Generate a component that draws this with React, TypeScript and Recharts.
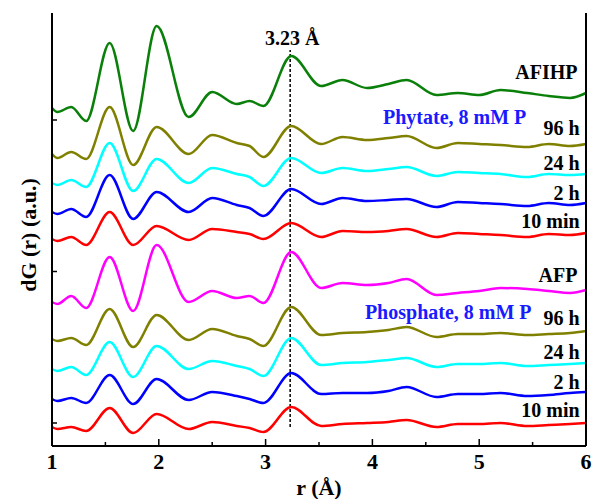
import { LineChart, Line, XAxis, YAxis, ReferenceLine, ReferenceDot } from 'recharts';

// r (Å) sample points, shared by every curve
const rValues = [1.0, 1.05, 1.18, 1.32, 1.54, 1.76, 1.98, 2.28, 2.5, 2.73, 2.85, 2.98, 3.24, 3.52, 3.72, 3.95, 4.15, 4.32, 4.6, 4.8, 5.0, 5.2, 5.45, 5.65, 5.85, 6.0];

// stacked dG(r), arbitrary units (already offset)
const afihp = [338, 334, 339, 325, 403, 315, 420, 329, 354, 342, 345, 340, 390, 360, 366, 358, 362, 366, 351, 353, 351, 356, 353, 350, 348, 353];
const phy96h = [292, 288, 294, 287, 339, 281, 319, 292, 311, 303, 300, 289, 320, 302, 309, 306, 308, 310, 298, 303, 302, 301, 299, 302, 300, 302];
const phy24h = [263, 261, 266, 259, 303, 255, 287, 263, 278, 272, 269, 260, 288, 273, 278, 275, 277, 279, 270, 274, 273, 272, 269, 272, 271, 272];
const phy2h = [234, 232, 237, 229, 271, 227, 254, 234, 248, 241, 238, 230, 257, 242, 248, 245, 246, 247, 239, 244, 243, 242, 240, 243, 241, 243];
const phy10m = [207, 205, 209, 201, 234, 201, 220, 206, 217, 214, 212, 207, 223, 209, 215, 214, 215, 217, 209, 213, 212, 211, 209, 212, 211, 213];
const afp = [144, 142, 150, 138, 189, 135, 201, 144, 155, 148, 150, 143, 194, 158, 163, 161, 163, 167, 151, 153, 155, 158, 157, 155, 153, 156];
const pho96h = [107, 105, 108, 101, 137, 99, 131, 106, 117, 110, 107, 100, 139, 111, 113, 114, 116, 119, 109, 112, 112, 113, 111, 112, 113, 115];
const pho24h = [77, 75, 79, 71, 104, 69, 100, 77, 85, 80, 77, 70, 108, 81, 83, 84, 86, 88, 79, 82, 82, 83, 80, 81, 82, 83];
const pho2h = [47, 45, 48, 43, 71, 42, 67, 46, 54, 50, 47, 43, 73, 52, 53, 53, 55, 59, 49, 52, 52, 53, 50, 51, 53, 54];
const pho10m = [19, 17, 19, 15, 38, 13, 32, 17, 24, 20, 18, 14, 39, 20, 22, 23, 24, 26, 19, 22, 22, 23, 20, 21, 22, 23];

const xTicks = [1, 1.5, 2, 2.5, 3, 3.5, 4, 4.5, 5, 5.5, 6];
const yTicks = [23, 174.5, 326];

const series = [
  { key: 'afihp', values: afihp, color: '#0a800a' },
  { key: 'phy96h', values: phy96h, color: '#808000' },
  { key: 'phy24h', values: phy24h, color: '#00ffff' },
  { key: 'phy2h', values: phy2h, color: '#0000ff' },
  { key: 'phy10m', values: phy10m, color: '#ff0000' },
  { key: 'afp', values: afp, color: '#ff00ff' },
  { key: 'pho96h', values: pho96h, color: '#808000' },
  { key: 'pho24h', values: pho24h, color: '#00ffff' },
  { key: 'pho2h', values: pho2h, color: '#0000ff' },
  { key: 'pho10m', values: pho10m, color: '#ff0000' },
];

const notes = [
  { text: 'AFIHP', x: 5.92, y: 374, anchor: 'end', color: '#000' },
  { text: 'Phytate, 8 mM P', x: 4.77, y: 329, anchor: 'middle', color: '#1a1aff' },
  { text: '96 h', x: 5.94, y: 318, anchor: 'end', color: '#000' },
  { text: '24 h', x: 5.94, y: 283, anchor: 'end', color: '#000' },
  { text: '2 h', x: 5.94, y: 253, anchor: 'end', color: '#000' },
  { text: '10 min', x: 5.94, y: 225, anchor: 'end', color: '#000' },
  { text: 'AFP', x: 5.92, y: 171, anchor: 'end', color: '#000' },
  { text: 'Phosphate, 8 mM P', x: 4.71, y: 134, anchor: 'middle', color: '#1a1aff' },
  { text: '96 h', x: 5.94, y: 128, anchor: 'end', color: '#000' },
  { text: '24 h', x: 5.94, y: 94, anchor: 'end', color: '#000' },
  { text: '2 h', x: 5.94, y: 64, anchor: 'end', color: '#000' },
  { text: '10 min', x: 5.94, y: 36, anchor: 'end', color: '#000' },
  { text: '3.23 Å', x: 3.25, y: 408, anchor: 'middle', color: '#000' },
];

const data = rValues.map((r, i) => {
  const row: Record<string, number> = { r };
  series.forEach((s) => {
    row[s.key] = s.values[i];
  });
  return row;
});

const FONT = '"Liberation Serif", "Times New Roman", serif';

function BottomTick({ x, y, payload }: any) {
  const major = Number.isInteger(payload.value);
  return (
    <g>
      <line x1={x} x2={x} y1={y} y2={y - (major ? 7 : 4)} stroke="#000" strokeWidth={1.5} />
      {major && (
        <text x={x} y={y + 23} textAnchor="middle" fontFamily={FONT} fontWeight="bold" fontSize={22} fill="#000">
          {payload.value}
        </text>
      )}
    </g>
  );
}

function TopTick({ x, y, payload }: any) {
  const major = Number.isInteger(payload.value);
  return <line x1={x} x2={x} y1={y} y2={y + (major ? 7 : 4)} stroke="#000" strokeWidth={1.5} />;
}

function LeftTick({ x, y }: any) {
  return <line x1={x} x2={x + 5} y1={y} y2={y} stroke="#000" strokeWidth={1.5} />;
}

function RightTick({ x, y }: any) {
  return <line x1={x} x2={x - 5} y1={y} y2={y} stroke="#000" strokeWidth={1.5} />;
}

export default function App() {
  return (
    <div style={{ position: 'absolute', left: 0, top: 0, width: 594, height: 499, background: '#fff' }}>
      <LineChart width={594} height={499} data={data} margin={{ top: 13, right: 0, bottom: 0, left: 0 }}>
        <XAxis
          dataKey="r"
          type="number"
          domain={[1, 6]}
          ticks={xTicks}
          interval={0}
          height={53}
          tickSize={0}
          tickMargin={0}
          tick={<BottomTick />}
          axisLine={{ stroke: '#000', strokeWidth: 2 }}
          label={{ value: 'r (Å)', position: 'insideBottom', offset: 4, fontFamily: FONT, fontWeight: 'bold', fontSize: 22, fill: '#000' }}
        />
        <XAxis
          xAxisId="top"
          orientation="top"
          dataKey="r"
          type="number"
          domain={[1, 6]}
          ticks={xTicks}
          interval={0}
          height={0}
          tickSize={0}
          tickMargin={0}
          tick={<TopTick />}
          axisLine={{ stroke: '#000', strokeWidth: 2 }}
        />
        <YAxis
          type="number"
          domain={[0, 433]}
          ticks={yTicks}
          interval={0}
          width={52}
          tickSize={0}
          tickMargin={0}
          tick={<LeftTick />}
          axisLine={{ stroke: '#000', strokeWidth: 2 }}
          label={{
            content: () => (
              <text
                transform="translate(28,235) rotate(-90)"
                textAnchor="middle"
                dominantBaseline="central"
                fontFamily={FONT}
                fontWeight="bold"
                fontSize={22}
                fill="#000"
              >
                dG (r) (a.u.)
              </text>
            ),
          }}
        />
        <YAxis
          yAxisId="right"
          orientation="right"
          type="number"
          domain={[0, 433]}
          ticks={yTicks}
          interval={0}
          width={8}
          tickSize={0}
          tickMargin={0}
          tick={<RightTick />}
          axisLine={{ stroke: '#000', strokeWidth: 2 }}
        />
        <ReferenceLine
          segment={[{ x: 3.23, y: 19 }, { x: 3.23, y: 396 }]}
          stroke="#000"
          strokeWidth={1.5}
          strokeDasharray="3 2"
        />
        {series.map((s) => (
          <Line
            key={s.key}
            type="monotone"
            dataKey={s.key}
            stroke={s.color}
            strokeWidth={2.5}
            dot={false}
            isAnimationActive={false}
          />
        ))}
        {notes.map((n, i) => (
          <ReferenceDot
            key={i}
            x={n.x}
            y={n.y}
            r={0}
            fill="none"
            stroke="none"
            label={(p: any) => (
              <text
                x={p.viewBox.x}
                y={p.viewBox.y}
                textAnchor={n.anchor}
                dominantBaseline="central"
                fontFamily={FONT}
                fontWeight="bold"
                fontSize={20}
                fill={n.color}
              >
                {n.text}
              </text>
            )}
          />
        ))}
      </LineChart>
    </div>
  );
}
